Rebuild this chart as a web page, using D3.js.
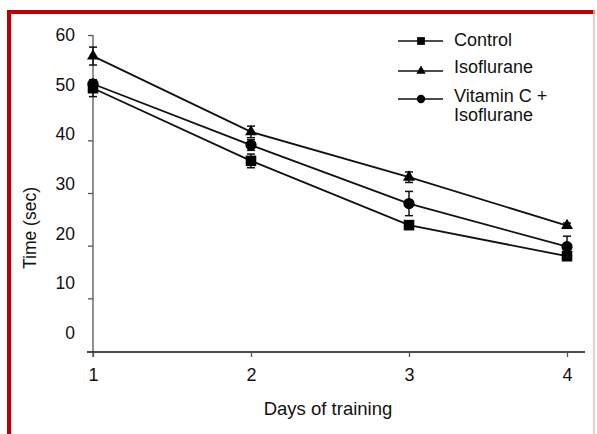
<!DOCTYPE html>
<html>
<head>
<meta charset="utf-8">
<script src="https://cdn.jsdelivr.net/npm/d3@7/dist/d3.min.js"></script>
<style>
  html, body { margin: 0; padding: 0; background: #fff; }
  svg { display: block; font-family: "Liberation Sans", Arial, sans-serif; }
</style>
</head>
<body>
<svg id="chart" width="597" height="434"></svg>
<script>
// Escape latency over the training days (mean ± SEM)
const days = [1, 2, 3, 4];
const yTicks = [0, 10, 20, 30, 40, 50, 60];

const controlMean = [49.9, 36.1, 23.9, 18.0];
const controlErr  = [1.6, 1.3, 0.8, 0.6];

const isoMean = [56.0, 41.6, 33.0, 23.8];
const isoErr  = [1.7, 1.1, 1.0, 0.5];

const vitcMean = [50.7, 39.1, 28.0, 19.8];
const vitcErr  = [0.8, 1.0, 2.3, 2.0];

const seriesNames = [["Control"], ["Isoflurane"], ["Vitamin C +", "Isoflurane"]];

const series = [
  { name: seriesNames[0], mean: controlMean, err: controlErr, symbol: d3.symbolSquare, size: 112, legendSize: 60 },
  { name: seriesNames[1], mean: isoMean, err: isoErr, symbol: d3.symbolTriangle, size: 62, legendSize: 38 },
  { name: seriesNames[2], mean: vitcMean, err: vitcErr, symbol: d3.symbolCircle, size: 100, legendSize: 55 }
];

const svg = d3.select("#chart");

// frame
svg.append("line").attr("x1", 9).attr("x2", 9).attr("y1", 10).attr("y2", 434)
  .attr("stroke", "#c00000").attr("stroke-width", 4);
svg.append("line").attr("x1", 7).attr("x2", 595).attr("y1", 12).attr("y2", 12)
  .attr("stroke", "#c00000").attr("stroke-width", 4);
svg.append("line").attr("x1", 594).attr("x2", 594).attr("y1", 10).attr("y2", 434)
  .attr("stroke", "#f2b8b8").attr("stroke-width", 1.5);

const x = d3.scaleLinear().domain([1, 4]).range([93, 567]);
const y = d3.scaleLinear().domain([0, 60]).range([351, 35]);
// tick text sits on its own evenly spaced column
const yLabel = d3.scaleLinear().domain([0, 60]).range([333, 35]);

// y axis
const yAxis = svg.append("g").attr("transform", "translate(93,0)")
  .call(d3.axisLeft(y).tickValues(yTicks.filter(v => v > 0)).tickSize(5).tickFormat(""));
yAxis.select(".domain").attr("d", `M0,${y(60)}V357`).attr("stroke", "#555").attr("stroke-width", 1.3);
yAxis.selectAll(".tick line").attr("stroke", "#555").attr("stroke-width", 1.3);

svg.append("g").selectAll("text").data(yTicks).join("text")
  .attr("x", 75).attr("y", d => yLabel(d)).attr("dy", "0.35em")
  .attr("text-anchor", "end").attr("font-size", 17.5).attr("fill", "#111")
  .text(d => d);

// x axis
const xAxis = svg.append("g").attr("transform", "translate(0,352)")
  .call(d3.axisBottom(x).tickValues(days).tickSize(5).tickPadding(11).tickFormat(d3.format("d")));
xAxis.select(".domain").attr("d", "M87,0H585").attr("stroke", "#111").attr("stroke-width", 1.3);
xAxis.selectAll(".tick line").attr("stroke", "#555").attr("stroke-width", 1.3);
xAxis.selectAll(".tick text").attr("font-size", 18).attr("fill", "#111")
  .attr("font-family", "Liberation Sans, Arial, sans-serif");

// axis titles
svg.append("text").attr("x", 328).attr("y", 415).attr("text-anchor", "middle")
  .attr("font-size", 18.5).attr("fill", "#111").text("Days of training");
svg.append("text").attr("transform", "translate(36,228) rotate(-90)").attr("text-anchor", "middle")
  .attr("font-size", 17.5).attr("fill", "#111").text("Time (sec)");

const line = d3.line().x((d, i) => x(days[i])).y(d => y(d));

series.forEach(s => {
  const g = svg.append("g");
  g.append("path").datum(s.mean).attr("d", line)
    .attr("fill", "none").attr("stroke", "#111").attr("stroke-width", 1.8);

  const pts = days.map((d, i) => ({ d, m: s.mean[i], e: s.err[i] }));
  const eb = g.selectAll(".eb").data(pts).join("g");
  eb.append("line").attr("x1", p => x(p.d)).attr("x2", p => x(p.d))
    .attr("y1", p => y(p.m + p.e)).attr("y2", p => y(p.m - p.e))
    .attr("stroke", "#111").attr("stroke-width", 1.5);
  [1, -1].forEach(sign => {
    eb.append("line").attr("x1", p => x(p.d) - 4).attr("x2", p => x(p.d) + 4)
      .attr("y1", p => y(p.m + sign * p.e)).attr("y2", p => y(p.m + sign * p.e))
      .attr("stroke", "#111").attr("stroke-width", 1.5);
  });

  g.selectAll(".mk").data(pts).join("path")
    .attr("transform", p => `translate(${x(p.d)},${y(p.m)})`)
    .attr("d", d3.symbol().type(s.symbol).size(s.size)())
    .attr("fill", "#000");
});

// legend
const legendRows = [41, 71, 99];
const legendText = [40, 67, 96];
const legend = svg.append("g");
series.forEach((s, i) => {
  const ly = legendRows[i];
  legend.append("line").attr("x1", 398).attr("x2", 443).attr("y1", ly).attr("y2", ly)
    .attr("stroke", "#111").attr("stroke-width", 1.6);
  legend.append("path").attr("transform", `translate(421,${ly})`)
    .attr("d", d3.symbol().type(s.symbol).size(s.legendSize)()).attr("fill", "#000");
  const t = legend.append("text").attr("x", 454).attr("y", legendText[i])
    .attr("font-size", 18).attr("fill", "#111");
  s.name.forEach((part, k) => {
    t.append("tspan").attr("x", 454).attr("dy", k === 0 ? "0.35em" : 19).text(part);
  });
});
</script>
</body>
</html>
